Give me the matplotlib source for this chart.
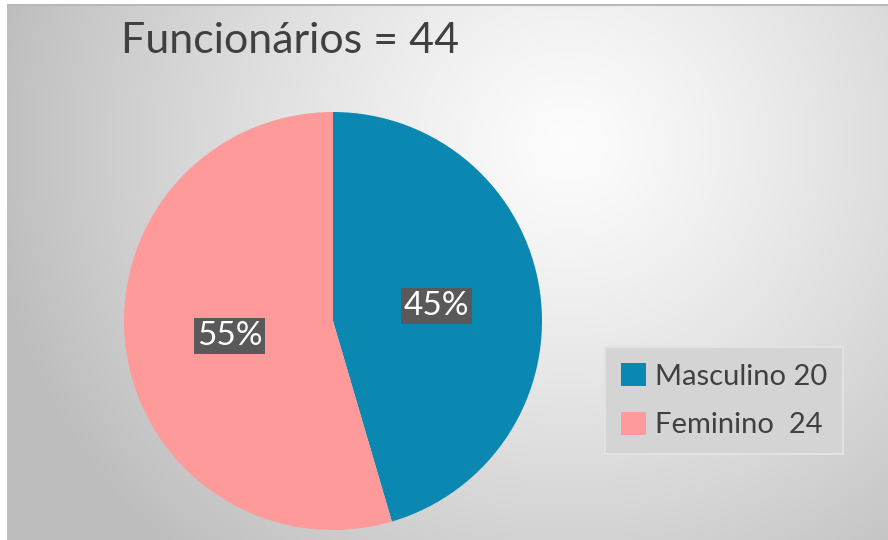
import numpy as np
import matplotlib
matplotlib.use("Agg")
import matplotlib.pyplot as plt
from matplotlib.patches import Patch

plt.rcParams['font.family'] = ['Lato', 'DejaVu Sans']

# employees by sex
categorias = ['Masculino', 'Feminino']
valores = [20, 24]
legenda = ['Masculino 20', 'Feminino  24']
cores = ['#0a88b2', '#ff9a9a']
titulo = 'Funcionários = 44'

W, H = 888, 540
fig = plt.figure(figsize=(W / 100, H / 100), dpi=100)
fig.patch.set_facecolor('white')

# grey radial background, light near the upper middle
bg = fig.add_axes([7 / W, 0, (W - 7) / W, (H - 4) / H])
yy, xx = np.mgrid[0:536, 0:881]
d = np.hypot(xx - 560, (yy - 140) * 1.05)
t = np.clip(d / 580, 0, 1) ** 1.2
g = 0.99 - t * (0.99 - 0.745)
bg.imshow(np.dstack([g, g, g]), aspect='auto', extent=[0, 1, 0, 1], origin='upper')
bg.set_xlim(0, 1)
bg.set_ylim(0, 1)
bg.axis('off')
bg.plot([0, 1], [0.999, 0.999], color='#b8b8b8', lw=1.5)

# pie
cx, cy, r = 333, 321, 209
ax = fig.add_axes([(cx - r) / W, (H - cy - r) / H, 2 * r / W, 2 * r / H])
wedges, texts, autotexts = ax.pie(
    valores, colors=cores, startangle=90, counterclock=False,
    autopct='%1.0f%%', pctdistance=0.5, radius=1,
    wedgeprops=dict(linewidth=0),
    textprops=dict(color='white', fontsize=24))
for a in autotexts:
    a.set_bbox(dict(facecolor='#595959', edgecolor='none', pad=2))
ax.set_xlim(-1, 1)
ax.set_ylim(-1, 1)
ax.set_aspect('equal')
ax.axis('off')

fig.text(290 / W, 1 - 41 / H, titulo, ha='center', va='center',
         fontsize=31, color='#404040')

handles = [Patch(facecolor=c, edgecolor='none') for c in cores]
leg = fig.legend(handles, legenda, loc='upper left',
                 bbox_to_anchor=(605 / W, 1 - 347 / H), borderaxespad=0,
                 fontsize=21, frameon=True, fancybox=False,
                 handlelength=0.85, handleheight=0.85, handletextpad=0.3,
                 labelspacing=0.75, borderpad=0.55, labelcolor='#404040')
leg.get_frame().set_facecolor('#d4d4d4')
leg.get_frame().set_edgecolor('#e2e2e2')
leg.get_frame().set_alpha(1)
leg.get_frame().set_linewidth(1.5)

fig.savefig('out.png', dpi=100)
